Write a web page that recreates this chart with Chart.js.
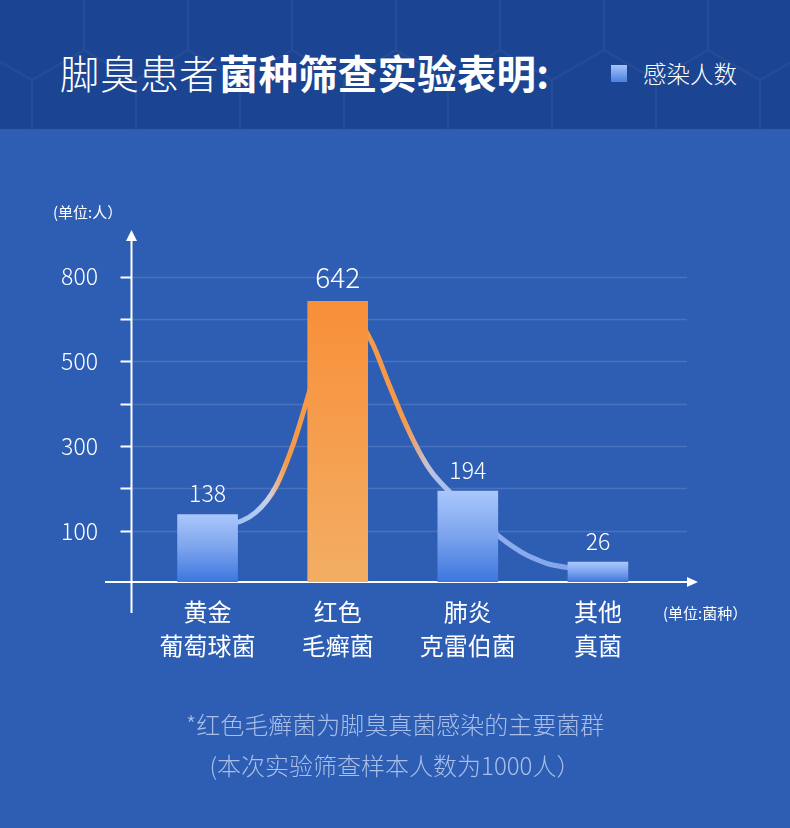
<!DOCTYPE html>
<html>
<head>
<meta charset="utf-8">
<script src="https://cdn.jsdelivr.net/npm/chart.js@4.4.1/dist/chart.umd.min.js"></script>
<style>
  html, body { margin: 0; padding: 0; }
  body {
    width: 790px; height: 828px; overflow: hidden; position: relative;
    background: #2d5eb3;
    font-family: "Noto Sans CJK SC", "Noto Sans", sans-serif;
    color: #fff;
  }
  #header {
    position: absolute; left: 0; top: 0; width: 790px; height: 129px;
    background-color: #1b4592;
    background-image: url("data:image/svg+xml;utf8,<svg xmlns='http://www.w3.org/2000/svg' width='104' height='180' viewBox='0 0 104 180'><g fill='none' stroke='rgba(255,255,255,0.045)' stroke-width='2'><path d='M52 0 L104 30 L104 90 L52 120 L0 90 L0 30 Z'/><path d='M52 120 L52 180'/></g></svg>");
    background-size: 104px 180px;
    background-position: -20px -40px;
  }
  #title {
    position: absolute; left: 60px; top: 47px; font-size: 39.4px; line-height: 50px;
    white-space: nowrap; font-weight: 300; letter-spacing: 0.3px;
  }
  #title b { font-weight: 700; }
  #legend { position: absolute; left: 611px; top: 56px; height: 34px; display: flex; align-items: center; }
  #legend .sw { width: 16px; height: 17px; background: linear-gradient(#a6c4f8, #4a80e0); margin-right: 16px; }
  #legend .lt { font-size: 23.5px; line-height: 34px; font-weight: 300; }
  .unit { position: absolute; font-size: 15px; line-height: 20px; white-space: nowrap; }
  #unitY { left: 53px; top: 202px; }
  #unitX { left: 663px; top: 603px; }
  .note { position: absolute; left: 0; width: 790px; text-align: center; font-size: 24px; line-height: 32px; color: #a9bfe9; font-weight: 300; }
  #note1 { top: 708px; }
  #note2 { top: 749px; }
  #wrap { position: absolute; left: 0; top: 0; width: 790px; height: 828px; }
</style>
</head>
<body>
<div id="header"></div>
<div id="title">脚臭患者<b>菌种筛查实验表明:</b></div>
<div id="legend"><div class="sw"></div><div class="lt">感染人数</div></div>
<div id="wrap"><canvas id="c"></canvas></div>
<div class="unit" id="unitY">(单位:人）</div>
<div class="unit" id="unitX">(单位:菌种）</div>
<div class="note" id="note1">*红色毛癣菌为脚臭真菌感染的主要菌群</div>
<div class="note" id="note2">(本次实验筛查样本人数为1000人）</div>
<script>
// ---- data ----
const categories = [['黄金', '葡萄球菌'], ['红色', '毛癣菌'], ['肺炎', '克雷伯菌'], ['其他', '真菌']];
const seriesName = '感染人数';
const barValues = [138, 642, 194, 26];
const yTickValues = [100, 200, 300, 400, 500, 600, 700];
const yTickLabels = ['100', '', '300', '', '500', '', '800'];
// trend curve (x in category index units, y in people)
const curveX = [-0.338, -0.238, 0.231, 0.403, 0.545, 0.769, 1.0, 1.231, 1.376, 1.522, 1.667, 1.769, 2.231, 2.336, 2.455, 2.575, 2.694, 2.769, 3.0];
const curveY = [47, 83, 144, 204, 298, 491, 632, 546, 449, 354, 274, 232, 112, 86, 62, 42, 28, 21, 10];
const yMin = -21, yMax = 800;

// ---- style ----
const highlightIndex = 1;
const fontFamily = '"Noto Sans CJK SC", "Noto Sans", sans-serif';

function barFill(ctx) {
  const chart = ctx.chart;
  const i = ctx.dataIndex;
  const hi = i === highlightIndex;
  if (!chart.chartArea || ctx.type !== 'data') return hi ? '#f6993f' : '#7aa3ee';
  const ys = chart.scales.y;
  const top = ys.getPixelForValue(ctx.raw);
  const bot = ys.getPixelForValue(yMin);
  const g = chart.ctx.createLinearGradient(0, top, 0, bot);
  if (hi) {
    g.addColorStop(0, '#f88f39');
    g.addColorStop(1, '#f3ae64');
  } else {
    g.addColorStop(0, '#aac7fb');
    g.addColorStop(0.5, '#7ba3ee');
    g.addColorStop(1, '#3c76de');
  }
  return g;
}

function curveStroke(ctx) {
  const chart = ctx.chart;
  if (!chart.chartArea) return '#f7953f';
  const xs = chart.scales.xc;
  const p = v => xs.getPixelForValue(v);
  const x0 = p(-0.4), x1 = p(3.0);
  const g = chart.ctx.createLinearGradient(x0, 0, x1, 0);
  const stops = [
    [-0.4, 'rgba(150,185,245,0)'],
    [-0.25, 'rgba(165,195,246,0.8)'],
    [0.25, '#b3cbf6'],
    [0.35, '#cfd0e0'],
    [0.42, '#e9b489'],
    [0.5, '#f59a48'],
    [1.5, '#f5994a'],
    [1.62, '#e0aa88'],
    [1.7, '#c8c2cc'],
    [1.77, '#b4c3e6'],
    [2.3, '#8eaeee'],
    [3.0, '#7ea3ec']
  ];
  const span = x1 - x0;
  stops.forEach(([v, c]) => g.addColorStop(Math.min(1, Math.max(0, (p(v) - x0) / span)), c));
  return g;
}

const axesPlugin = {
  id: 'axesPlugin',
  beforeDatasetsDraw(chart) {
    const {ctx, chartArea, scales} = chart;
    const ys = scales.y;
    const axisX = chartArea.left - 11;
    const axisY = ys.getPixelForValue(yMin);
    ctx.save();
    // grid lines
    ctx.strokeStyle = 'rgba(255,255,255,0.13)';
    ctx.lineWidth = 1.5;
    yTickValues.forEach(v => {
      const y = Math.round(ys.getPixelForValue(v)) + 0.5;
      ctx.beginPath(); ctx.moveTo(axisX, y); ctx.lineTo(687, y); ctx.stroke();
    });
    ctx.strokeStyle = '#ffffff';
    ctx.fillStyle = '#ffffff';
    ctx.lineWidth = 2;
    // tick marks
    yTickValues.forEach(v => {
      const y = Math.round(ys.getPixelForValue(v)) + 0.5;
      ctx.beginPath(); ctx.moveTo(axisX - 11, y); ctx.lineTo(axisX, y); ctx.stroke();
    });
    // y axis
    ctx.beginPath(); ctx.moveTo(axisX, 238); ctx.lineTo(axisX, 613); ctx.stroke();
    ctx.beginPath(); ctx.moveTo(axisX, 230); ctx.lineTo(axisX + 5.5, 241); ctx.lineTo(axisX - 5.5, 241); ctx.closePath(); ctx.fill();
    // x axis
    ctx.beginPath(); ctx.moveTo(105, axisY); ctx.lineTo(690, axisY); ctx.stroke();
    ctx.beginPath(); ctx.moveTo(698, axisY); ctx.lineTo(687, axisY - 5); ctx.lineTo(687, axisY + 5); ctx.closePath(); ctx.fill();
    ctx.restore();
  },
  afterDatasetsDraw(chart) {
    const {ctx} = chart;
    const meta = chart.getDatasetMeta(0);
    ctx.save();
    ctx.fillStyle = '#ffffff';
    ctx.textAlign = 'center';
    ctx.textBaseline = 'middle';
    meta.data.forEach((el, i) => {
      const hi = i === highlightIndex;
      ctx.font = (hi ? '300 28px ' : '300 23px ') + fontFamily;
      ctx.fillText(String(barValues[i]), el.x, el.y - (hi ? 24 : 21));
    });
    ctx.restore();
  }
};

const chart = new Chart(document.getElementById('c'), {
  type: 'bar',
  data: {
    labels: categories,
    datasets: [
      {
        type: 'bar',
        label: seriesName,
        data: barValues,
        base: yMin,
        backgroundColor: barFill,
        borderWidth: 0,
        barThickness: 60,
        grouped: false,
        order: 1
      },
      {
        type: 'line',
        label: 'trend',
        xAxisID: 'xc',
        data: curveX.map((x, i) => ({x: x, y: curveY[i]})),
        borderColor: curveStroke,
        borderWidth: 5,
        borderCapStyle: 'round',
        borderJoinStyle: 'round',
        pointRadius: 0,
        fill: false,
        cubicInterpolationMode: 'monotone',
        order: 2
      }
    ]
  },
  options: {
    responsive: true,
    maintainAspectRatio: false,
    animation: false,
    devicePixelRatio: 1,
    layout: { padding: { left: 42.5, right: 127, top: 234.4, bottom: 156 } },
    plugins: { legend: { display: false }, tooltip: { enabled: false }, title: { display: false } },
    scales: {
      x: {
        type: 'category',
        offset: true,
        grid: { display: false, drawTicks: false },
        border: { display: false },
        ticks: {
          color: '#ffffff',
          font: { family: fontFamily, size: 24, weight: '400', lineHeight: 1.4 },
          padding: 13,
          maxRotation: 0,
          autoSkip: false
        },
        afterFit(scale) { scale.height = 90; }
      },
      xc: {
        type: 'linear',
        display: false,
        min: -0.5,
        max: 3.5
      },
      y: {
        type: 'linear',
        min: yMin,
        max: yMax,
        grid: { display: false, drawTicks: false },
        border: { display: false },
        afterBuildTicks(scale) { scale.ticks = yTickValues.map(v => ({ value: v })); },
        ticks: {
          color: '#ffffff',
          font: { family: fontFamily, size: 23, weight: '300' },
          padding: 44.5,
          callback: (value, index) => yTickLabels[index]
        },
        afterFit(scale) { scale.width = 100; }
      }
    }
  },
  plugins: [axesPlugin]
});
</script>
</body>
</html>
